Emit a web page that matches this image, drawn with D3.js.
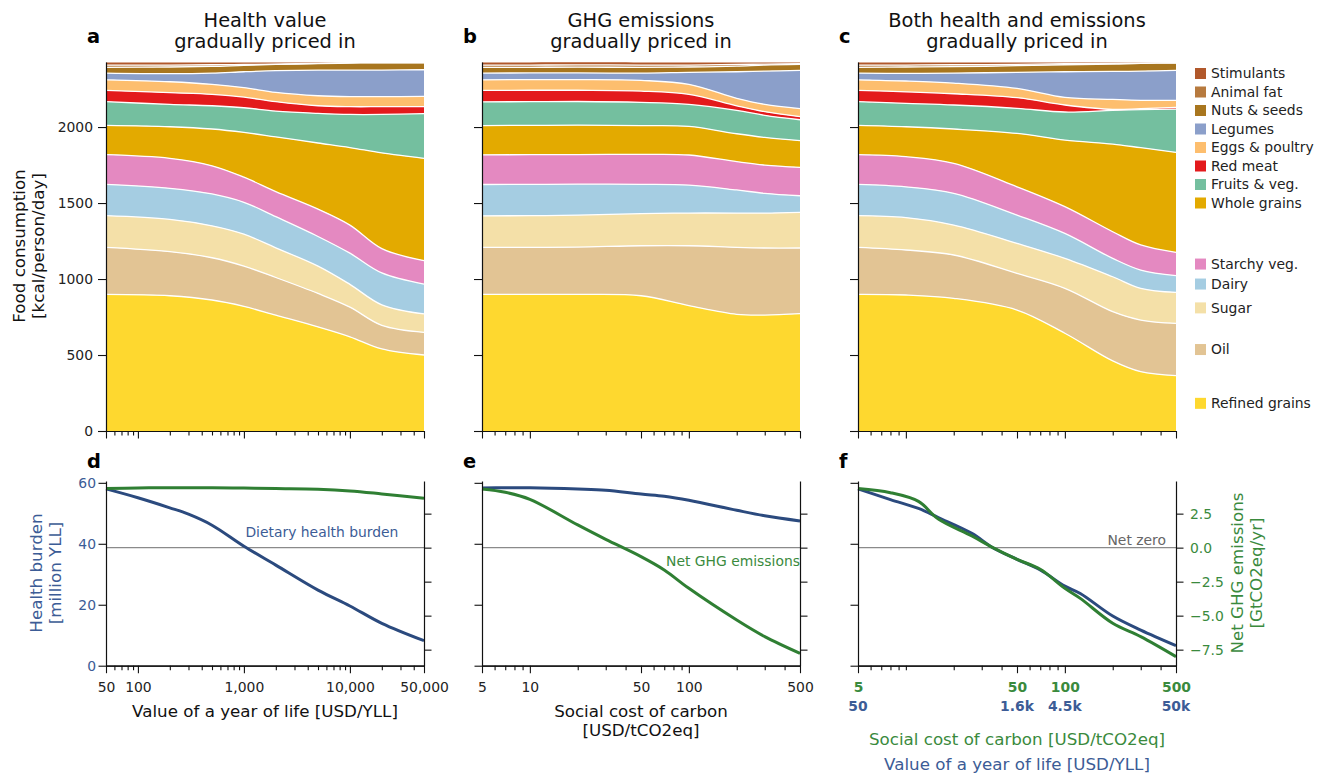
<!DOCTYPE html>
<html>
<head>
<meta charset="utf-8">
<script src="https://cdn.jsdelivr.net/npm/d3@7"></script>
<style>
body { margin: 0; background: #fff; }
text { font-family: "DejaVu Sans", sans-serif; }
</style>
</head>
<body>
<script>
// foods, bottom of the stack first
const foods = ["Refined grains", "Oil", "Sugar", "Dairy", "Starchy veg.", "Whole grains",
  "Fruits & veg.", "Red meat", "Eggs & poultry", "Legumes", "Nuts & seeds", "Animal fat", "Stimulants"];
const foodColors = ["#fed82f", "#e2c494", "#f4e0a8", "#a5cde2", "#e489c1", "#e3aa00",
  "#74bf9f", "#e31a1c", "#fdbe6e", "#8b9fca", "#a8761f", "#b77a3e", "#b1582b"];

// x samples of the top panels
const lifeValues = [50, 200, 500, 1000, 2000, 5000, 10000, 20000, 50000];
const carbonPrices = [5, 10, 20, 50, 100, 200, 300, 500];

// kcal/person/day, one row per food (same order as foods)
const dietHealth = [
  [899, 890, 862, 820, 762, 685, 620, 540, 500],
  [309, 290, 278, 265, 248, 220, 195, 155, 149],
  [209, 213, 210, 210, 195, 180, 150, 135, 121],
  [206, 204, 210, 210, 205, 195, 205, 210, 197],
  [195, 197, 185, 165, 165, 180, 185, 160, 154],
  [193, 208, 242, 295, 360, 435, 510, 630, 673],
  [156, 147, 153, 162, 170, 195, 218, 253, 294],
  [74, 77, 75, 70, 62, 50, 51, 51, 46],
  [70, 72, 66, 62, 61, 66, 66, 66, 68],
  [44, 53, 74, 105, 143, 169, 175, 175, 175],
  [38, 44, 44, 42, 41, 42, 46, 48, 46],
  [15, 13, 11, 6, 2, 2, 2, 1, 1],
  [17, 17, 15, 13, 11, 6, 2, 1, 1]
];
const dietGhg = [
  [899, 899, 899, 890, 825, 768, 763, 772],
  [309, 309, 311, 329, 394, 440, 441, 432],
  [208, 209, 210, 211, 215, 226, 230, 235],
  [206, 206, 204, 193, 184, 152, 130, 109],
  [195, 195, 195, 197, 198, 186, 186, 187],
  [193, 193, 193, 189, 188, 184, 182, 175],
  [156, 156, 156, 153, 145, 154, 145, 138],
  [75, 75, 74, 75, 66, 30, 24, 20],
  [70, 70, 70, 70, 66, 49, 48, 53],
  [44, 44, 44, 48, 79, 175, 219, 252],
  [37, 37, 38, 38, 35, 37, 40, 39],
  [15, 15, 15, 15, 13, 11, 6, 5],
  [18, 17, 17, 17, 17, 13, 11, 8]
];
const dietBoth = [
  [899, 895, 873, 796, 643, 461, 390, 364],
  [309, 296, 285, 241, 296, 324, 340, 344],
  [209, 213, 197, 198, 197, 230, 209, 204],
  [206, 203, 209, 186, 164, 121, 120, 110],
  [195, 198, 197, 186, 176, 175, 165, 153],
  [193, 197, 226, 351, 438, 577, 640, 658],
  [156, 154, 158, 165, 185, 222, 250, 285],
  [74, 76, 74, 70, 46, 6, 7, 11],
  [70, 71, 70, 61, 50, 66, 55, 47],
  [44, 50, 66, 106, 169, 184, 192, 197],
  [38, 42, 42, 44, 46, 48, 51, 48],
  [15, 13, 13, 8, 7, 5, 2, 2],
  [17, 17, 15, 13, 8, 6, 4, 2]
];

// bottom panels: health burden [million YLL] and net GHG [GtCO2eq/yr]
const lifeX = [50, 100, 200, 300, 500, 1000, 2000, 5000, 10000, 20000, 50000];
const burdenHealth = [58.0, 55.1, 51.8, 49.7, 46.1, 39.2, 33.0, 24.8, 19.6, 13.9, 8.2];
const ghgHealth = [4.34, 4.39, 4.40, 4.40, 4.40, 4.38, 4.34, 4.29, 4.17, 3.95, 3.63];
const carbonX = [5, 7, 10, 20, 30, 50, 70, 100, 200, 300, 500];
const burdenGhg = [58.3, 58.4, 58.4, 58.0, 57.6, 56.3, 55.6, 54.3, 51.0, 49.2, 47.5];
const ghgGhg = [4.31, 4.07, 3.55, 1.67, 0.61, -0.66, -1.64, -2.99, -5.32, -6.54, -7.77];
const bothX = [5, 8, 12, 16, 26, 35, 50, 70, 100, 125, 200, 300, 500];
const burdenBoth = [58.0, 54.5, 51.6, 48.6, 43.4, 38.8, 34.9, 31.4, 26.1, 23.7, 16.3, 11.7, 6.6];
const ghgBoth = [4.34, 4.04, 3.40, 2.10, 0.86, 0.02, -0.86, -1.59, -2.99, -3.73, -5.56, -6.54, -8.01];

// ticks
const kcalTicks = [0, 500, 1000, 1500, 2000];
const burdenTicks = [0, 20, 40, 60];
const ghgTicks = [2.5, 0, -2.5, -5, -7.5];
const ghgTickLabels = ["2.5", "0.0", "\u22122.5", "\u22125.0", "\u22127.5"];
const yllTicks = [50, 100, 1000, 10000, 50000];
const yllTickLabels = ["50", "100", "1,000", "10,000", "50,000"];
const sccTicks = [5, 10, 50, 100, 500];
const sccTickLabels = ["5", "10", "50", "100", "500"];
const bothTicks = [5, 50, 100, 500];
const bothSccLabels = ["5", "50", "100", "500"];
const bothYllLabels = ["50", "1.6k", "4.5k", "50k"];

const W = 1330, H = 777;
const blueLine = "#2b4a7e", blueText = "#3c5c96";
const greenLine = "#2f7f33", greenText = "#3a8a3d";
const TICK = 13.9, LABEL = 16.7, TITLE = 19.4;
const curve = d3.curveCatmullRom.alpha(0.5);

const svg = d3.select("body").append("svg").attr("width", W).attr("height", H);

const panelX = [[106, 424], [482, 800], [858, 1176]];
const yTop = d3.scaleLinear().domain([0, 2428]).range([431, 62]);
const yL = d3.scaleLinear().domain([0, 60.6]).range([665.7, 481]);
const yR = d3.scaleLinear().domain([-8.68, 4.9]).range([665.7, 481]);

const xA = d3.scaleLog().domain([50, 50000]).range(panelX[0]);
const xB = d3.scaleLog().domain([5, 500]).range(panelX[1]);
const xC = d3.scaleLog().domain([5, 500]).range(panelX[2]);

function styleAxis(g, color) {
  g.attr("font-family", null).attr("font-size", TICK);
  g.select(".domain").attr("stroke", "#111").attr("stroke-width", 1.2);
  g.selectAll(".tick line").attr("stroke", "#111").attr("stroke-width", 1.1);
  g.selectAll(".tick text").attr("fill", color || "#222");
}

// log x axis with minor ticks
function logAxis(x, y0, majors, labels, showLabels) {
  const minors = x.ticks().filter(v => majors.indexOf(v) < 0);
  svg.append("g").attr("transform", "translate(0," + y0 + ")")
    .call(d3.axisBottom(x).tickValues(minors).tickSize(4.5).tickSizeOuter(0).tickFormat(""))
    .call(styleAxis);
  return svg.append("g").attr("transform", "translate(0," + y0 + ")")
    .call(d3.axisBottom(x).tickValues(majors).tickSize(7.5).tickSizeOuter(0).tickPadding(8.5)
      .tickFormat((d, i) => showLabels ? labels[i] : ""))
    .call(styleAxis);
}

//---------------- top stacked panels ----------------
function stackPanel(x, xs, diet) {
  const rows = xs.map((v, j) => {
    const r = {x: v};
    diet.forEach((s, i) => r[i] = s[j]);
    return r;
  });
  const series = d3.stack().keys(d3.range(foods.length))(rows);
  const area = d3.area().curve(curve)
    .x(d => x(d.data.x)).y0(d => yTop(d[0])).y1(d => yTop(d[1]));
  const edge = d3.line().curve(curve)
    .x(d => x(d.data.x)).y(d => yTop(d[1]));
  const g = svg.append("g");
  g.selectAll("path.layer").data(series).enter().append("path")
    .attr("class", "layer")
    .attr("d", area)
    .attr("fill", (d, i) => foodColors[i]);
  g.selectAll("path.edge").data(series.slice(0, -1)).enter().append("path")
    .attr("class", "edge")
    .attr("d", edge)
    .attr("fill", "none")
    .attr("stroke", "#fff")
    .attr("stroke-width", 1.3);
  return series;
}

stackPanel(xA, lifeValues, dietHealth);
stackPanel(xB, carbonPrices, dietGhg);
const bothSeries = stackPanel(xC, carbonPrices, dietBoth);

[xA, xB, xC].forEach((x, k) => {
  svg.append("g").attr("transform", "translate(" + panelX[k][0] + ",0)")
    .call(d3.axisLeft(yTop).tickValues(kcalTicks).tickSize(8).tickSizeOuter(0).tickPadding(5)
      .tickFormat(d => k === 0 ? d : ""))
    .call(styleAxis);
  logAxis(x, 431, k === 0 ? yllTicks : sccTicks, null, false);
});

// titles
const titles = [["Health value", "gradually priced in"], ["GHG emissions", "gradually priced in"],
  ["Both health and emissions", "gradually priced in"]];
titles.forEach((t, k) => {
  const cx = (panelX[k][0] + panelX[k][1]) / 2;
  svg.append("text").attr("x", cx).attr("y", 26.7).attr("text-anchor", "middle")
    .attr("font-size", TITLE).attr("fill", "#111").text(t[0]);
  svg.append("text").attr("x", cx).attr("y", 47.5).attr("text-anchor", "middle")
    .attr("font-size", TITLE).attr("fill", "#111").text(t[1]);
});
["a", "b", "c", "d", "e", "f"].forEach((l, i) => {
  svg.append("text").attr("x", panelX[i % 3][0] - 19).attr("y", i < 3 ? 43 : 468)
    .attr("font-size", TITLE).attr("font-weight", "bold").attr("fill", "#000").text(l);
});

// y label of the top row
function vLabel(cx, cy, lines, color, size) {
  const t = svg.append("text").attr("transform", "translate(" + cx + "," + cy + ") rotate(-90)")
    .attr("text-anchor", "middle").attr("font-size", size).attr("fill", color);
  lines.forEach((s, i) => t.append("tspan").attr("x", 0).attr("dy", i === 0 ? "0.35em" : "1.17em").text(s));
  return t;
}
vLabel(19, 246, ["Food consumption", "[kcal/person/day]"], "#111", LABEL);

// legend, placed next to the right edge of panel c
const last = bothSeries.map(s => s[s.length - 1]);
const legendY = [];
let prev = -Infinity;
for (let i = foods.length - 1; i >= 0; i--) {
  let c = (yTop(last[i][0]) + yTop(last[i][1])) / 2;
  c = Math.max(c, 73.5, prev + 18.5);
  legendY[i] = c;
  prev = c;
}
const legend = svg.append("g");
foods.forEach((f, i) => {
  legend.append("rect").attr("x", 1195).attr("y", legendY[i] - 5.5).attr("width", 11).attr("height", 11)
    .attr("fill", foodColors[i]);
  legend.append("text").attr("x", 1211).attr("y", legendY[i]).attr("dy", "0.35em")
    .attr("font-size", TICK).attr("fill", "#222").text(f);
});

//---------------- bottom line panels ----------------
function linePanel(k, x, xs, burden, ghg) {
  const g = svg.append("g");
  g.append("line").attr("x1", panelX[k][0]).attr("x2", panelX[k][1])
    .attr("y1", yR(0)).attr("y2", yR(0)).attr("stroke", "#8a8a8a").attr("stroke-width", 1.4);
  const lb = d3.line().curve(curve).x((d, i) => x(xs[i])).y(d => yL(d));
  const lg = d3.line().curve(curve).x((d, i) => x(xs[i])).y(d => yR(d));
  g.append("path").attr("d", lb(burden)).attr("fill", "none").attr("stroke", blueLine).attr("stroke-width", 3);
  g.append("path").attr("d", lg(ghg)).attr("fill", "none").attr("stroke", greenLine).attr("stroke-width", 3);

  svg.append("g").attr("transform", "translate(" + panelX[k][0] + ",0)")
    .call(d3.axisLeft(yL).tickValues(burdenTicks).tickSize(7.5).tickSizeOuter(0).tickPadding(2.5)
      .tickFormat(d => k === 0 ? d : ""))
    .call(g => styleAxis(g, blueText));
  svg.append("g").attr("transform", "translate(" + panelX[k][1] + ",0)")
    .call(d3.axisRight(yR).tickValues(ghgTicks).tickSize(7.5).tickSizeOuter(0).tickPadding(6.5)
      .tickFormat((d, i) => k === 2 ? ghgTickLabels[i] : ""))
    .call(g => styleAxis(g, greenText));
}

linePanel(0, xA, lifeX, burdenHealth, ghgHealth);
linePanel(1, xB, carbonX, burdenGhg, ghgGhg);
linePanel(2, xC, bothX, burdenBoth, ghgBoth);

logAxis(xA, 665.7, yllTicks, yllTickLabels, true);
logAxis(xB, 665.7, sccTicks, sccTickLabels, true);
// panel f: two rows of bold tick labels
logAxis(xC, 665.7, bothTicks, bothSccLabels, true)
  .selectAll(".tick text").attr("font-weight", "bold").attr("fill", greenText);
bothTicks.forEach((v, i) => {
  svg.append("text").attr("x", xC(v)).attr("y", 710.5).attr("text-anchor", "middle")
    .attr("font-size", TICK).attr("font-weight", "bold").attr("fill", blueText).text(bothYllLabels[i]);
});

// annotations
svg.append("text").attr("x", xA(1000) + 78).attr("y", 537).attr("text-anchor", "middle")
  .attr("font-size", TICK).attr("fill", blueText).text("Dietary health burden");
svg.append("text").attr("x", panelX[1][1]).attr("y", 566).attr("text-anchor", "end")
  .attr("font-size", TICK).attr("fill", greenText).text("Net GHG emissions");
svg.append("text").attr("x", panelX[2][1] - 10).attr("y", 545).attr("text-anchor", "end")
  .attr("font-size", TICK).attr("fill", "#666").text("Net zero");

// axis labels
vLabel(36, 573, ["Health burden", "[million YLL]"], blueText, LABEL);
vLabel(1237, 573, ["Net GHG emissions", "[GtCO2eq/yr]"], greenText, LABEL);
svg.append("text").attr("x", 265).attr("y", 717).attr("text-anchor", "middle")
  .attr("font-size", LABEL).attr("fill", "#111").text("Value of a year of life [USD/YLL]");
svg.append("text").attr("x", 641).attr("y", 717).attr("text-anchor", "middle")
  .attr("font-size", LABEL).attr("fill", "#111").text("Social cost of carbon");
svg.append("text").attr("x", 641).attr("y", 735.5).attr("text-anchor", "middle")
  .attr("font-size", LABEL).attr("fill", "#111").text("[USD/tCO2eq]");
svg.append("text").attr("x", 1017).attr("y", 745).attr("text-anchor", "middle")
  .attr("font-size", LABEL).attr("fill", greenText).text("Social cost of carbon [USD/tCO2eq]");
svg.append("text").attr("x", 1017).attr("y", 770).attr("text-anchor", "middle")
  .attr("font-size", LABEL).attr("fill", blueText).text("Value of a year of life [USD/YLL]");
</script>
</body>
</html>
